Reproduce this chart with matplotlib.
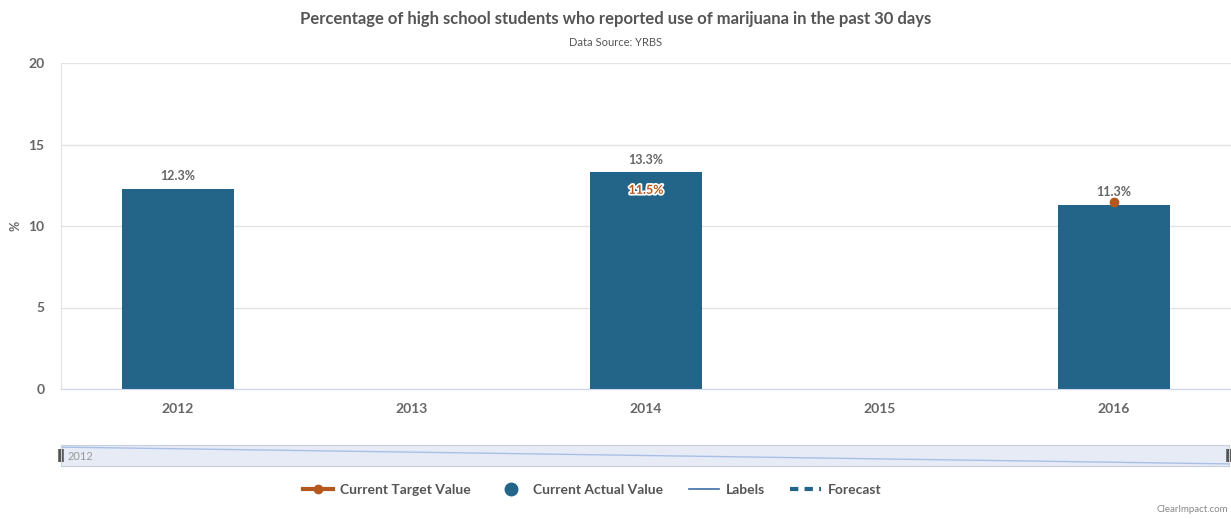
import matplotlib.pyplot as plt
import matplotlib.patheffects as pe
from matplotlib.lines import Line2D

plt.rcParams['font.family'] = ['Lato', 'DejaVu Sans']

years = ['2012', '2013', '2014', '2015', '2016']
actual = [12.3, None, 13.3, None, 11.3]
target_years = ['2014', '2016']
target = [11.5, 11.5]

bar_color = '#236589'
target_color = '#b5581e'
text_color = '#666666'

fig = plt.figure(figsize=(12.31, 5.19), dpi=100)
ax = fig.add_axes([61 / 1231, 130 / 519, 1170 / 1231, 326 / 519])

xs = list(range(len(years)))
for x, v in zip(xs, actual):
    if v is None:
        continue
    ax.bar(x, v, width=0.48, color=bar_color, zorder=2)
    ax.text(x, v + 0.4, f'{v}%', ha='center', va='bottom', fontsize=9,
            fontweight='bold', color=text_color, zorder=4)

# target points / labels
for yr, t in zip(target_years, target):
    x = years.index(yr)
    if yr == '2016':
        ax.plot(x, t, 'o', color=target_color, ms=6, zorder=3)
    else:
        ax.text(x, t + 0.35, f'{t}%', ha='center', va='bottom', fontsize=9,
                fontweight='bold', color=target_color, zorder=4,
                path_effects=[pe.withStroke(linewidth=2.5, foreground='white')])

ax.set_xlim(-0.5, 4.5)
ax.set_ylim(0, 20)
ax.set_yticks([0, 5, 10, 15, 20])
ax.set_xticks(xs)
ax.set_xticklabels(years)
ax.grid(axis='y', color='#e3e3e3', lw=1, zorder=0)
ax.tick_params(axis='both', length=0, labelsize=10, labelcolor=text_color)
ax.tick_params(axis='y', pad=12)
ax.tick_params(axis='x', pad=10)
for lab in ax.get_xticklabels() + ax.get_yticklabels():
    lab.set_fontweight('bold')
for s in ['top', 'right']:
    ax.spines[s].set_visible(False)
ax.spines['left'].set_color('#e3e3e3')
ax.spines['bottom'].set_color('#ccd6eb')
fig.text(15 / 1231, 1 - 226 / 519, '%', rotation=90, ha='center', va='center',
         fontsize=9, fontweight='bold', color=text_color)

fig.text(616 / 1231, 1 - 19 / 519, 'Percentage of high school students who reported use of marijuana in the past 30 days',
         ha='center', va='center', fontsize=12, fontweight='bold', color='#555555')
fig.text(616 / 1231, 1 - 42 / 519, 'Data Source: YRBS', ha='center', va='center',
         fontsize=8, color='#555555')

# navigator
nav = fig.add_axes([61 / 1231, (519 - 466) / 519, 1168 / 1231, 21 / 519])
nav.set_facecolor('#e6ebf5')
nav.plot([0, 1], [0.9, 0.1], color='#a9c0e6', lw=1)
nav.set_xlim(0, 1)
nav.set_ylim(0, 1)
nav.set_xticks([])
nav.set_yticks([])
for s in nav.spines.values():
    s.set_color('#c8cfdb')
nav.text(0.006, 0.45, '2012', fontsize=8, color='#999999', va='center')
for hx in [0.0, 1.0]:
    nav.plot([hx, hx], [0.2, 0.8], color='#555555', lw=4, solid_capstyle='butt', clip_on=False)

# legend
handles = [
    Line2D([], [], color=target_color, lw=3, marker='o', ms=6),
    Line2D([], [], color=bar_color, lw=0, marker='o', ms=9),
    Line2D([], [], color='#3f6ca8', lw=1.2),
    Line2D([], [], color=bar_color, lw=3, ls=(0, (2, 1.5))),
]
labels = ['Current Target Value', 'Current Actual Value', 'Labels', 'Forecast']
leg = fig.legend(handles, labels, loc='center', bbox_to_anchor=(592 / 1231, 1 - 490 / 519),
                 ncol=4, frameon=False, fontsize=10, handlelength=2.2, columnspacing=1.8,
                 handletextpad=0.5)
for t in leg.get_texts():
    t.set_color('#555555')
    t.set_fontweight('bold')

fig.text(1228 / 1231, 1 - 510 / 519, 'ClearImpact.com', ha='right', va='center',
         fontsize=7, color='#888888')

fig.savefig('out.png', dpi=100)
